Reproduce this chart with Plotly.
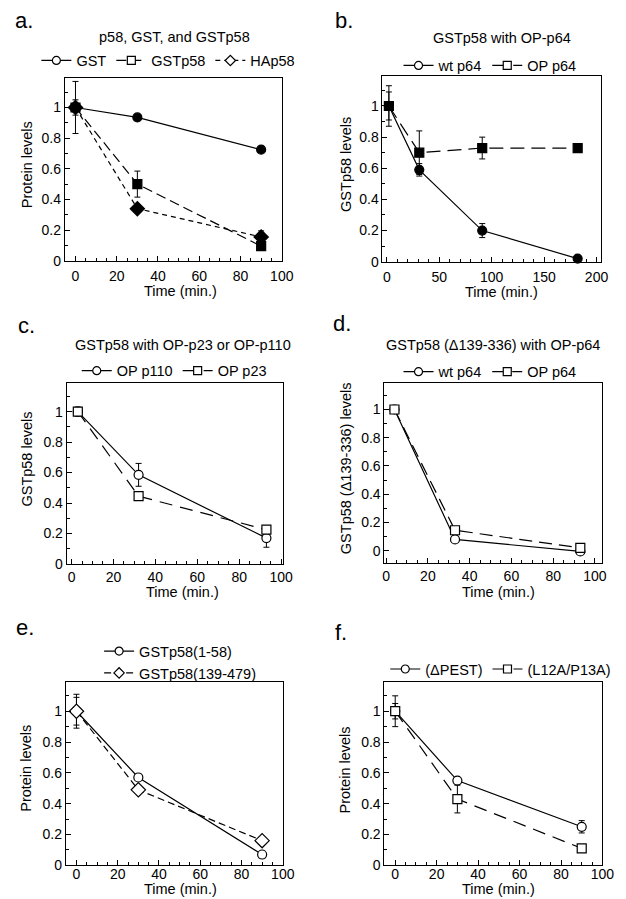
import plotly.graph_objects as go

# ---- datos ----
# a. p58, GST, and GSTp58
a_time = [0, 30, 90]
a_gst = [1.0, 0.935, 0.725]
a_gst_err = [0.05, 0, 0]
a_gstp58 = [1.0, 0.50, 0.095]
a_gstp58_err = [0.17, 0.085, 0]
a_hap58 = [1.0, 0.34, 0.155]
a_hap58_err = [0, 0, 0.04]

# b. GSTp58 with OP-p64
b_time = [2, 31, 91, 182]
b_wt = [1.0, 0.59, 0.20, 0.02]
b_wt_err = [0.13, 0.04, 0.045, 0]
b_op = [1.0, 0.70, 0.73, 0.73]
b_op_err = [0.09, 0.14, 0.07, 0]

# c. GSTp58 with OP-p23 or OP-p110
c_time = [3, 32, 93]
c_p110 = [1.0, 0.585, 0.17]
c_p110_err = [0.03, 0.075, 0.06]
c_p23 = [1.0, 0.445, 0.225]
c_p23_err = [0, 0, 0]

# d. GSTp58 (Δ139-336) with OP-p64
d_time = [4, 33, 93]
d_wt = [1.0, 0.08, -0.005]
d_wt_err = [0.02, 0, 0]
d_op = [1.0, 0.145, 0.02]
d_op_err = [0, 0, 0]

# e. GSTp58 fragments
e_time = [0, 30, 90]
e_158 = [1.0, 0.57, 0.07]
e_158_err = [0.11, 0, 0]
e_139 = [1.0, 0.49, 0.16]
e_139_err = [0.09, 0.02, 0]

# f. mutants
f_time = [0, 30, 90]
f_pest = [1.0, 0.55, 0.25]
f_pest_err = [0.10, 0, 0.04]
f_l12 = [1.0, 0.43, 0.11]
f_l12_err = [0.05, 0.09, 0]

FONT = "Liberation Sans, Arial, sans-serif"
W, H = 626, 899

# caja en pixeles (x0, x1, y0, y1), rangos, pasos de ticks y titulos de ejes (posicion en pixeles)
panels = {
    1: dict(box=(56, 278, 71, 255), xr=[-5.2, 100], yr=[0, 1.19], dx=20, mx=5, lab=2,
            ytitle=("Protein levels", 17, 158), xtitle=(174, 286)),
    2: dict(box=(381, 605, 69, 256), xr=[-4.1, 204.7], yr=[0, 1.19], dx=50, mx=10, lab=2,
            ytitle=("GSTp58 levels", 343, 158), xtitle=(503, 287)),
    3: dict(box=(58, 279, 378, 561), xr=[-2.3, 100.8], yr=[0, 1.19], dx=20, mx=5, lab=0,
            ytitle=("GSTp58 levels", 17, 455), xtitle=(176, 589)),
    4: dict(box=(383, 606, 378, 560), xr=[-0.8, 103.6], yr=[-0.087, 1.19], dx=20, mx=5, lab=0,
            ytitle=("GSTp58 (\u0394139-336) levels", 344, 464), xtitle=(500, 589)),
    5: dict(box=(57, 279, 680, 865), xr=[-5.2, 100], yr=[0, 1.19], dx=20, mx=5, lab=-4,
            ytitle=("Protein levels", 17, 767), xtitle=(174, 889)),
    6: dict(box=(383, 606, 680, 865), xr=[-5.2, 100], yr=[0, 1.19], dx=20, mx=5, lab=-4,
            ytitle=("Protein levels", 343, 769), xtitle=(500, 889)),
}

fig = go.Figure()


def add_series(n, x, y, err, name, symbol, filled, dash, legend):
    sfx = "" if n == 1 else str(n)
    fill = "black" if filled else "white"
    size = 9 if symbol != "diamond" else 11
    fig.add_trace(go.Scatter(
        x=x, y=y, mode="lines+markers", xaxis="x" + sfx, yaxis="y" + sfx,
        line=dict(color="black", width=1.2, dash=dash),
        marker=dict(symbol=symbol, size=size, color=fill, line=dict(color="black", width=1.2)),
        error_y=dict(type="data", array=err, color="black", thickness=1, width=3),
        showlegend=False, cliponaxis=False,
    ))
    # entrada de leyenda con marcador abierto, como en la figura original
    fig.add_trace(go.Scatter(
        x=[None], y=[None], mode="lines+markers", name=name, legend=legend,
        xaxis="x" + sfx, yaxis="y" + sfx,
        line=dict(color="black", width=1.2, dash=dash),
        marker=dict(symbol=symbol, size=8, color="white", line=dict(color="black", width=1.2)),
    ))


add_series(1, a_time, a_gst, a_gst_err, "GST", "circle", True, "solid", "legend")
add_series(1, a_time, a_gstp58, a_gstp58_err, "GSTp58", "square", True, "10px,5px", "legend")
add_series(1, a_time, a_hap58, a_hap58_err, "HAp58", "diamond", True, "5px,4px", "legend")

add_series(2, b_time, b_wt, b_wt_err, "wt p64", "circle", True, "solid", "legend2")
add_series(2, b_time, b_op, b_op_err, "OP p64", "square", True, "14px,7px", "legend2")

add_series(3, c_time, c_p110, c_p110_err, "OP p110", "circle", False, "solid", "legend3")
add_series(3, c_time, c_p23, c_p23_err, "OP p23", "square", False, "13px,8px", "legend3")

add_series(4, d_time, d_wt, d_wt_err, "wt p64", "circle", False, "solid", "legend4")
add_series(4, d_time, d_op, d_op_err, "OP p64", "square", False, "13px,7px", "legend4")

add_series(5, e_time, e_158, e_158_err, "GSTp58(1-58)", "circle", False, "solid", "legend5")
add_series(5, e_time, e_139, e_139_err, "GSTp58(139-479)", "diamond", False, "7px,4px", "legend5")

add_series(6, f_time, f_pest, f_pest_err, "(\u0394PEST)", "circle", False, "solid", "legend6")
add_series(6, f_time, f_l12, f_l12_err, "(L12A/P13A)", "square", False, "13px,8px", "legend6")

layout = dict(
    width=W, height=H, margin=dict(l=0, r=0, t=0, b=0),
    paper_bgcolor="white", plot_bgcolor="white",
    font=dict(family=FONT, size=14, color="black"),
)

for n, p in panels.items():
    sfx = "" if n == 1 else str(n)
    x0, x1, y0, y1 = p["box"]
    common = dict(showline=True, linecolor="black", linewidth=1, mirror=True,
                  ticks="inside", ticklen=5, tickcolor="black", showgrid=False,
                  zeroline=False, tickfont=dict(size=14))
    layout["xaxis" + sfx] = dict(
        common, domain=[x0 / W, x1 / W], range=p["xr"], anchor="y" + sfx,
        tick0=0, dtick=p["dx"], ticklabelstandoff=p["lab"],
        minor=dict(ticks="inside", ticklen=3, dtick=p["mx"], tick0=0, tickcolor="black"),
    )
    layout["yaxis" + sfx] = dict(
        common, domain=[1 - y1 / H, 1 - y0 / H], range=p["yr"], anchor="x" + sfx,
        tick0=0, dtick=0.2,
        minor=dict(ticks="inside", ticklen=3, dtick=0.1, tick0=0, tickcolor="black"),
    )

# posiciones de leyendas (centro en pixeles)
legend_pos = {
    "legend": (162, 53), "legend2": (491, 58), "legend3": (168, 366),
    "legend4": (491, 367), "legend5": (174, 660), "legend6": (502, 667),
}
for key, (cx, cy) in legend_pos.items():
    layout[key] = dict(
        x=cx / W, y=1 - cy / H, xanchor="center", yanchor="middle",
        orientation="v" if key == "legend5" else "h",
        bgcolor="rgba(0,0,0,0)", font=dict(size=14.5), itemwidth=30,
        tracegroupgap=0, itemclick=False,
    )

fig.update_layout(**layout)

# titulos de ejes como anotaciones
for n, p in panels.items():
    text, tx, ty = p["ytitle"]
    fig.add_annotation(text=text, x=tx / W, y=1 - ty / H, xref="paper", yref="paper",
                       showarrow=False, textangle=-90, xanchor="center", yanchor="middle",
                       font=dict(size=14.5))
    tx, ty = p["xtitle"]
    fig.add_annotation(text="Time (min.)", x=tx / W, y=1 - ty / H, xref="paper", yref="paper",
                       showarrow=False, xanchor="center", yanchor="middle", font=dict(size=14.5))

# titulos de paneles y letras
titles = [
    ("p58, GST, and GSTp58", 168, 29),
    ("GSTp58 with OP-p64", 503, 30),
    ("GSTp58 with OP-p23 or OP-p110", 177, 340),
    ("GSTp58 (\u0394139-336) with OP-p64", 494, 340),
]
for text, cx, cy in titles:
    fig.add_annotation(text=text, x=cx / W, y=1 - cy / H, xref="paper", yref="paper",
                       showarrow=False, xanchor="center", yanchor="middle", font=dict(size=14.5))

letters = [("a.", 3, 13), ("b.", 330, 13), ("c.", 6, 320), ("d.", 328, 318), ("e.", 4, 625), ("f.", 330, 630)]
for text, lx, ly in letters:
    fig.add_annotation(text=text, x=lx / W, y=1 - ly / H, xref="paper", yref="paper",
                       showarrow=False, xanchor="left", yanchor="middle", font=dict(size=22))

fig.write_html("out.html")
